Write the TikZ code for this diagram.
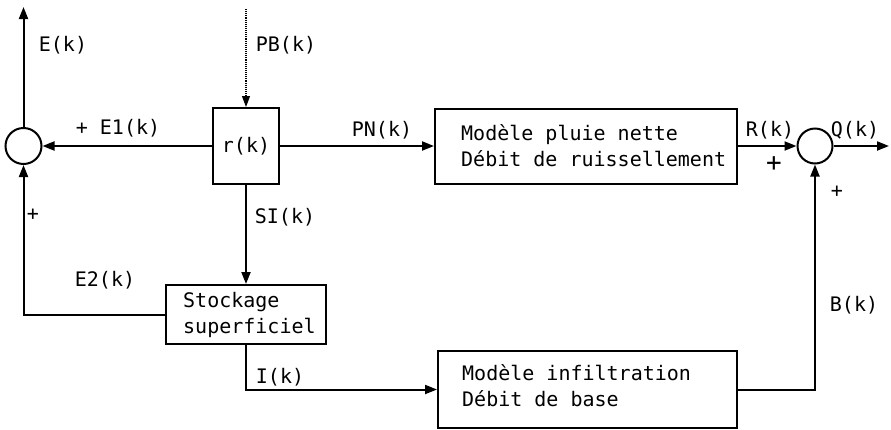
\documentclass[tikz,border=0pt]{standalone}
\usepackage{fontspec}
\setmonofont{DejaVu Sans Mono}
\usetikzlibrary{arrows.meta}
\begin{document}
\begin{tikzpicture}[x=1pt,y=-1pt,
  every node/.style={font=\ttfamily\fontsize{20}{26}\selectfont, inner sep=0pt},
  blk/.style={draw, line width=2pt, inner sep=0pt},
  sumc/.style={draw, circle, line width=2pt, minimum size=36pt, inner sep=0pt},
  wire/.style={line width=2pt},
  arr/.style={wire, -{Triangle[length=12pt,width=9pt]}},
  bigplus/.style={font=\ttfamily\fontsize{26}{26}\selectfont}]
\useasboundingbox (0,0) rectangle (891,429);

% blocks
\node[sumc] (sl) at (23.5,146) {};
\node[blk, minimum width=66pt, minimum height=76pt] (r) at (246,146) {r(k)};
\node[blk, minimum width=302pt, minimum height=75pt] (m1) at (586,146) {};
\node[anchor=west, align=left] (m1t) at ([xshift=27pt]m1.west) {Modèle pluie nette\\Débit de ruissellement};
\node[sumc, minimum size=35pt] (sr) at (815,146) {};
\node[blk, minimum width=160pt, minimum height=59pt] (st) at (246,314.5) {};
\node[anchor=west, align=left] (stt) at ([xshift=18pt]st.west) {Stockage\\superficiel};
\node[blk, minimum width=299pt, minimum height=77pt] (m2) at (587.5,389.5) {};
\node[anchor=west, align=left] (m2t) at ([xshift=25pt, yshift=3.5pt]m2.west) {Modèle infiltration\\Débit de base};

% free ends
\coordinate (etop) at (23.5,7);
\coordinate (pbtop) at (246,9);
\coordinate (qend) at (889,146);

% connectors
\draw[arr] (sl.north) -- (etop);
\draw[line width=1.1pt, densely dotted, -{Triangle[length=11pt,width=8pt]}] (pbtop) -- (r.north);
\draw[arr] (r.west) -- (sl.east);
\draw[arr] (r.east) -- (m1.west);
\draw[arr] (m1.east) -- (sr.west);
\draw[arr] (sr.east) -- (qend);
\draw[arr] (r.south) -- (st.north);
\draw[arr] (st.west) -| (sl.south);
\draw[arr] (st.south) |- (m2.west);
\draw[arr] (m2.east) -| (sr.south);

% labels
\node (lE) at (63,45) {E(k)};
\node (lPB) at (286,45) {PB(k)};
\node (lE1) at (118,128) {+ E1(k)};
\node (lPN) at (382,130) {PN(k)};
\node (lR) at (770,130) {R(k)};
\node (lQ) at (855,130) {Q(k)};
\node[bigplus] (lp1) at (774,164) {+};
\node (lp2) at (837,192) {+};
\node (lB) at (854,305) {B(k)};
\node (lE2) at (105,280) {E2(k)};
\node (lp3) at (33,215) {+};
\node (lSI) at (285,217) {SI(k)};
\node (lI) at (280,377) {I(k)};
\end{tikzpicture}
\end{document}
